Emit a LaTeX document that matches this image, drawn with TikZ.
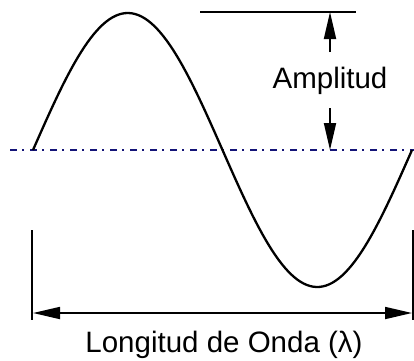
\documentclass[tikz,border=0pt]{standalone}
\usepackage{fontspec}
\setmainfont{Liberation Sans}
\usepackage{tikz}
\usetikzlibrary{arrows.meta, positioning, calc}
\tikzset{
    wave/.style={line width=2.3pt, line join=round},
    guide/.style={line width=1.8pt},
    axisline/.style={line width=1.6pt, color=axisblue, dash pattern=on 7pt off 5pt on 2pt off 6pt},
    dimarrow/.style={line width=1.8pt},
    labelnode/.style={inner sep=0pt, font=\fontsize{29.5}{34}\selectfont}
}
\definecolor{axisblue}{RGB}{20,20,120}

\begin{document}
\begin{tikzpicture}[x=1pt, y=-1pt, >={Triangle[length=27pt, width=12pt]}]
\useasboundingbox (0,0) rectangle (414,360);
% eje y onda
\coordinate (axl) at (10,150);
\coordinate (axr) at (414,150);
\draw[axisline] (axl) -- (axr);
\draw[wave] plot[domain=0:360, samples=120] ({33+\x*1.05278}, {150-137*sin(\x)});
% amplitud
\coordinate (topl) at (200,12);
\coordinate (topr) at (356,12);
\coordinate (atop) at (330,12);
\coordinate (amid) at (330,150);
\draw[guide] (topl) -- (topr);
\node[labelnode, anchor=base] (amp) at (330,88) {Amplitud};
\draw[dimarrow, ->] (330,52) -- (atop);
\draw[dimarrow, ->] (330,108) -- (amid);
% longitud de onda
\coordinate (vl1) at (32,230);
\coordinate (vl2) at (32,320);
\coordinate (vr1) at (413,230);
\coordinate (vr2) at (413,320);
\draw[guide, line width=1.5pt] (vl1) -- (vl2);
\draw[guide, line width=1.5pt] (vr1) -- (vr2);
\draw[dimarrow, <->] (33,313) -- (412,313);
\node[labelnode, anchor=base] (lambda) at (224,352) {Longitud de Onda (λ)};
\end{tikzpicture}
\end{document}
